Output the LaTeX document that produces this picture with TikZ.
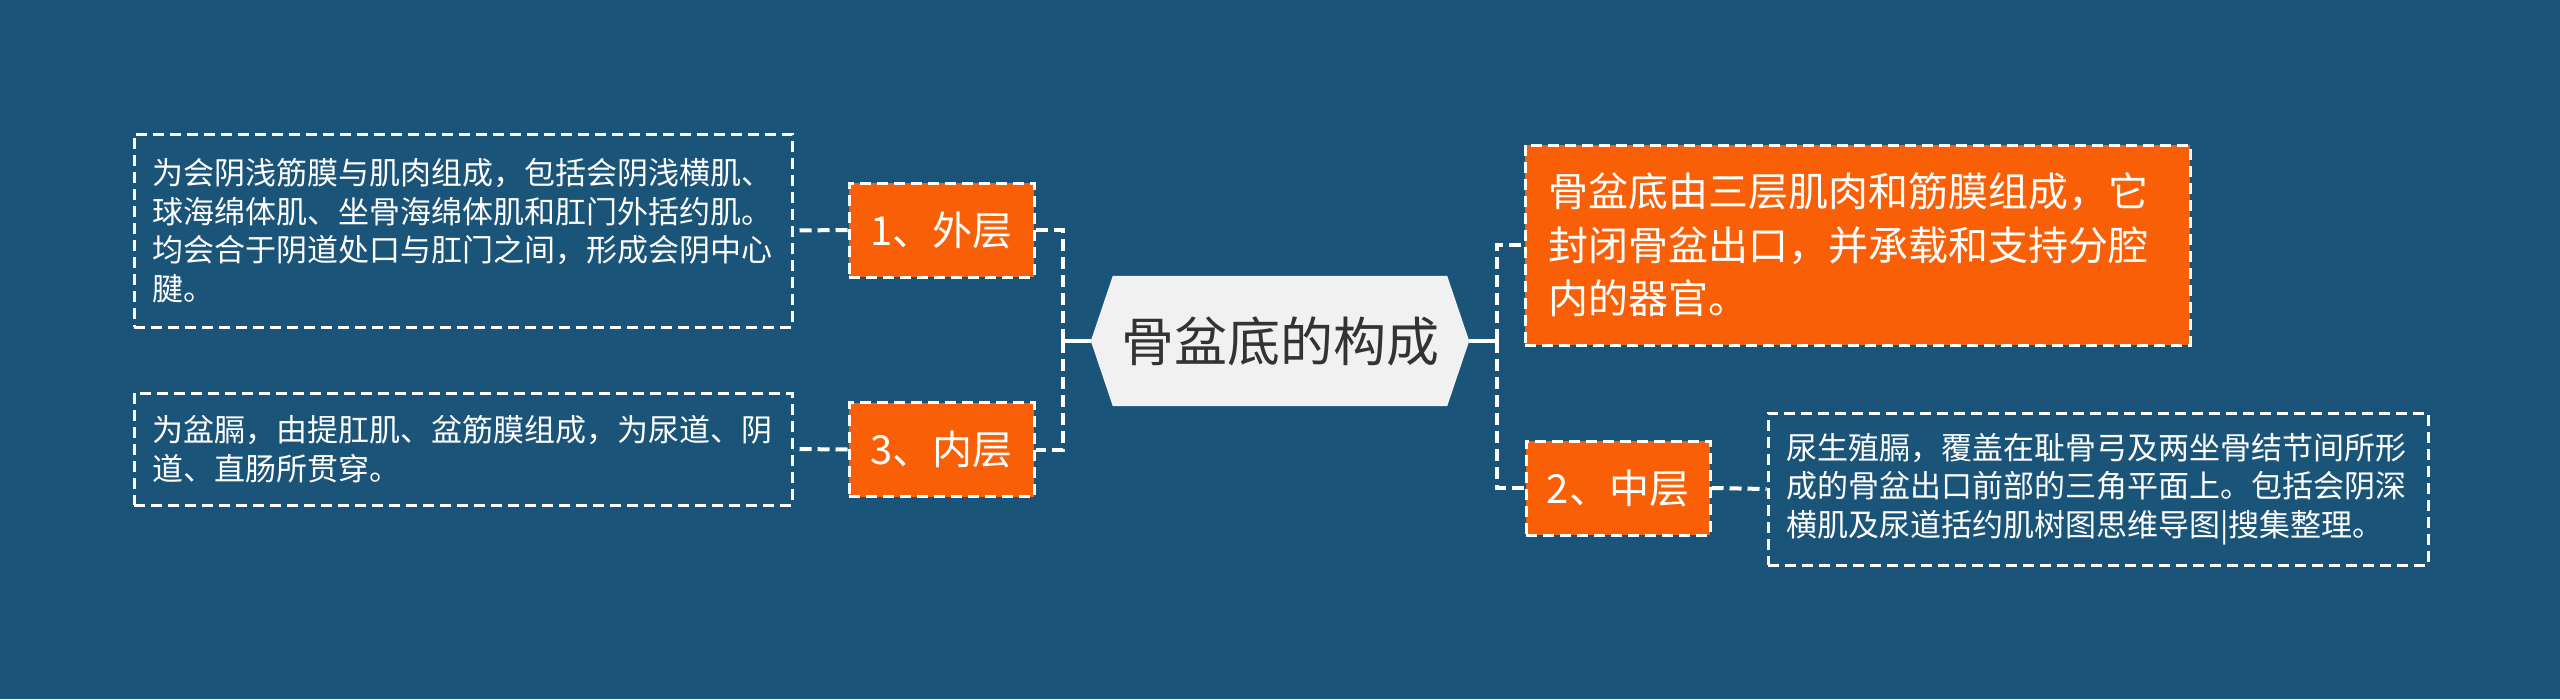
\documentclass[tikz,border=0pt]{standalone}
\usepackage{fontspec}
\newfontfamily\cjk{Noto Sans CJK SC}
\usetikzlibrary{backgrounds,calc}
\definecolor{bgblue}{HTML}{1B5479}
\definecolor{orangefill}{HTML}{F95F06}
\definecolor{rootfill}{HTML}{F1F1F1}
\definecolor{roottext}{HTML}{333333}
\begin{document}
\begin{tikzpicture}[x=1pt,y=-1pt,
  box/.style={draw=white, dash pattern=on 11pt off 6pt, line width=3pt, inner ysep=0pt, text=white},
  orangebox/.style={box, fill=orangefill},
  textbox/.style={box, align=left},
  fsmall/.style={font=\cjk\fontsize{31}{38.5}\selectfont},
  fbig/.style={font=\cjk\fontsize{40}{53.5}\selectfont},
  conn/.style={draw=white, line width=4pt, dash pattern=on 12pt off 6pt},
  solidconn/.style={draw=white, line width=4pt},
  ]
\useasboundingbox (0,0) rectangle (2560,699);
\begin{scope}[on background layer]
  \fill[bgblue] (0,0) rectangle (2560,699);
\end{scope}

% root
\node[minimum width=378pt, minimum height=130pt, inner sep=0pt, text=roottext,
      font=\cjk\fontsize{53}{62}\selectfont] (root) at (1280,341) {骨盆底的构成};
\begin{scope}[on background layer]
  \fill[rootfill] (root.west) -- ($(root.north west)+(22,0)$) -- ($(root.north east)+(-22,0)$)
    -- (root.east) -- ($(root.south east)+(-22,0)$) -- ($(root.south west)+(22,0)$) -- cycle;
\end{scope}

% left children
\node[orangebox, fbig, minimum width=185pt, minimum height=94pt] (outer) at (941.5,230) {1、外层};
\node[orangebox, fbig, minimum width=185pt, minimum height=94pt] (inner) at (941.5,449.5) {3、内层};

\node[textbox, fsmall, text width=622pt, inner xsep=18pt, minimum width=658pt, minimum height=193pt]
  (outertext) at (463,230.5) {为会阴浅筋膜与肌肉组成，包括会阴浅横肌、\\球海绵体肌、坐骨海绵体肌和肛门外括约肌。\\均会合于阴道处口与肛门之间，形成会阴中心\\腱。};
\node[textbox, fsmall, text width=622pt, inner xsep=18pt, minimum width=658pt, minimum height=112pt]
  (innertext) at (463,449) {为盆膈，由提肛肌、盆筋膜组成，为尿道、阴\\道、直肠所贯穿。};

% right children
\node[orangebox, fbig, align=left, text width=619pt, inner xsep=23pt, minimum width=665pt, minimum height=200pt]
  (summary) at (1857.5,245) {骨盆底由三层肌肉和筋膜组成，它\\封闭骨盆出口，并承载和支持分腔\\内的器官。};
\node[orangebox, fbig, minimum width=184pt, minimum height=94pt] (middle) at (1618,488) {2、中层};
\node[textbox, fsmall, text width=624pt, inner xsep=18pt, minimum width=660pt, minimum height=152pt]
  (middletext) at (2098,489) {尿生殖膈，覆盖在耻骨弓及两坐骨结节间所形\\成的骨盆出口前部的三角平面上。包括会阴深\\横肌及尿道括约肌树图思维导图|搜集整理。};

% connectors left
\coordinate (lb) at (1063,341);
\draw[solidconn] (root.west) -- (lb);
\draw[solidconn] ([yshift=11pt]lb) -- ([yshift=-11pt]lb);
\draw[conn] (lb) |- (outer.east);
\draw[conn] (lb) |- (inner.east);
\draw[conn] (outer.west) -- (outertext.east);
\draw[conn] (inner.west) -- (innertext.east);

% connectors right
\coordinate (rb) at (1497,341);
\draw[solidconn] (root.east) -- (rb);
\draw[solidconn] ([yshift=11pt]rb) -- ([yshift=-11pt]rb);
\draw[conn] (rb) |- (summary.west);
\draw[conn] (rb) |- (middle.west);
\draw[conn] (middle.east) -- (middletext.west);
\end{tikzpicture}
\end{document}
